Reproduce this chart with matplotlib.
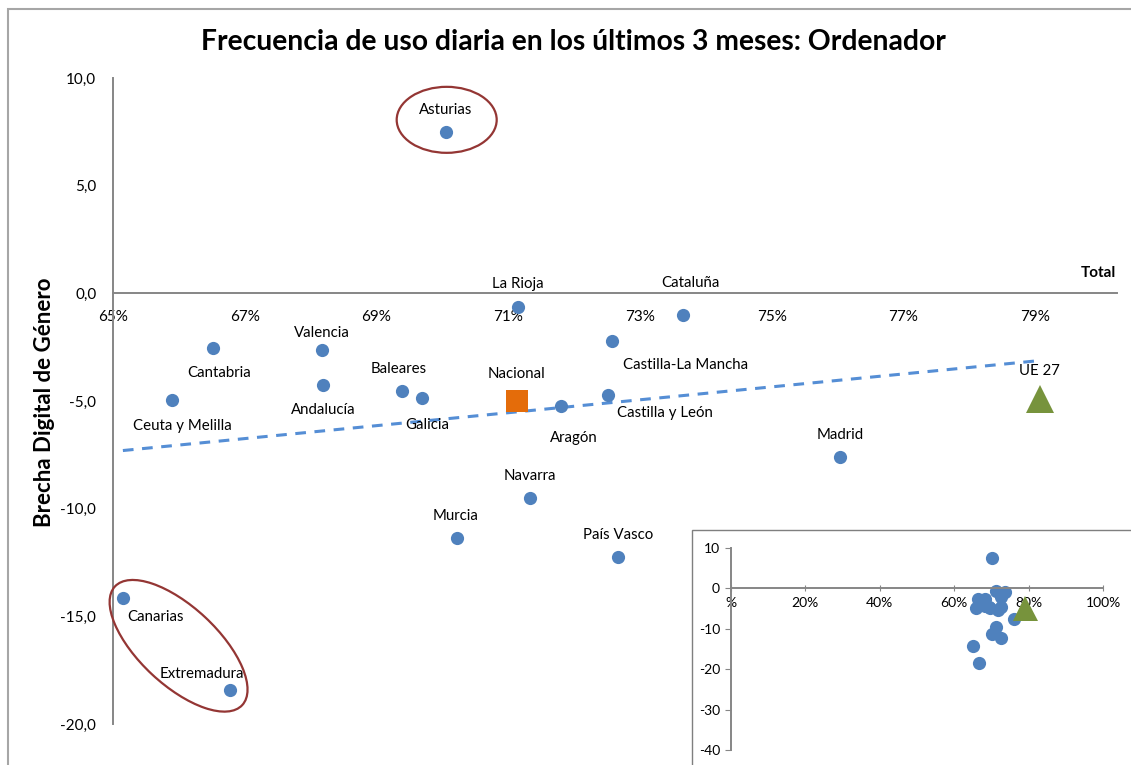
import numpy as np
import matplotlib
matplotlib.use("Agg")
import matplotlib.pyplot as plt
from matplotlib.patches import Ellipse, Rectangle
from matplotlib.ticker import FuncFormatter
from matplotlib.transforms import IdentityTransform

plt.rcParams['font.family'] = ['Lato', 'DejaVu Sans']

# Regions: % daily computer use (x) vs digital gender gap (y)
regions = ["Asturias", "La Rioja", "Cataluña", "Cantabria", "Valencia",
           "Castilla-La Mancha", "Andalucía", "Baleares", "Galicia",
           "Ceuta y Melilla", "Aragón", "Castilla y León", "Madrid",
           "Navarra", "Murcia", "País Vasco", "Canarias", "Extremadura"]
uso_total = [70.05, 71.15, 73.65, 66.52, 68.17, 72.57, 68.19, 69.39, 69.69,
             65.90, 71.80, 72.51, 76.03, 71.33, 70.22, 72.66, 65.15, 66.78]
brecha = [7.5, -0.65, -1.0, -2.55, -2.65, -2.2, -4.25, -4.55, -4.85,
          -4.95, -5.25, -4.7, -7.6, -9.5, -11.35, -12.25, -14.15, -18.4]

nacional_x, nacional_y = 71.13, -5.02
ue27_x, ue27_y = 79.07, -4.93

x_ticks = [65, 67, 69, 71, 73, 75, 77, 79]
y_ticks = [-20, -15, -10, -5, 0, 5, 10]
inset_x_ticks = [0, 20, 40, 60, 80, 100]
inset_y_ticks = [-40, -30, -20, -10, 0, 10]

# label offsets in pixels (dx, dy), y upwards
label_offsets = {
    "Asturias": (0, 22), "La Rioja": (0, 23), "Cataluña": (8, 32),
    "Cantabria": (6, -25), "Valencia": (0, 17), "Castilla-La Mancha": (74, -24),
    "Andalucía": (0, -25), "Baleares": (-4, 22), "Galicia": (5, -27),
    "Ceuta y Melilla": (10, -26), "Aragón": (13, -32), "Castilla y León": (57, -18),
    "Madrid": (1, 22), "Navarra": (0, 22), "Murcia": (-1, 22),
    "País Vasco": (0, 22), "Canarias": (33, -19), "Extremadura": (-28, 16),
}

BLUE = "#4F81BD"
ORANGE = "#E46C0A"
GREEN = "#77933C"
AXIS = "#868686"
RED = "#943634"

W, H = 1131, 765
fig = plt.figure(figsize=(W / 100, H / 100), dpi=100)

# outer chart border
fig.add_artist(Rectangle((8 / W, -0.05), 1.1, (H - 9) / H + 0.05, transform=fig.transFigure,
                         fill=False, edgecolor="#a6a6a6", linewidth=1.5, clip_on=False))

ax = fig.add_axes([113 / W, (H - 724) / H, (1117 - 113) / W, (724 - 78) / H])
ax.set_xlim(65, 80.24)
ax.set_ylim(-20, 10)
for s in ["top", "right"]:
    ax.spines[s].set_visible(False)
ax.spines["bottom"].set_position(("data", 0))
for s in ["left", "bottom"]:
    ax.spines[s].set_color(AXIS)
    ax.spines[s].set_linewidth(1.4)
ax.set_xticks(x_ticks)
ax.set_yticks(y_ticks)
ax.xaxis.set_major_formatter(FuncFormatter(lambda v, p: f"{v:.0f}%"))
ax.yaxis.set_major_formatter(FuncFormatter(lambda v, p: f"{v:.1f}".replace(".", ",")))
ax.tick_params(axis="x", length=0, pad=12, labelsize=11)
ax.tick_params(axis="y", length=0, pad=12, labelsize=11)

# trend line over all points
all_x = np.array(uso_total + [nacional_x, ue27_x])
all_y = np.array(brecha + [nacional_y, ue27_y])
slope, intercept = np.polyfit(all_x, all_y, 1)
tx = np.array([all_x.min(), all_x.max()])
ax.plot(tx, slope * tx + intercept, color="#558ED5", lw=2.2, ls=(0, (3.5, 2.8)), zorder=2)

ax.plot(uso_total, brecha, "o", color=BLUE, ms=9.5, mew=0, zorder=3)
ax.plot([nacional_x], [nacional_y], "s", color=ORANGE, ms=16.5, mew=0, zorder=3)
ax.plot([ue27_x], [ue27_y], "^", color=GREEN, ms=19.5, mew=0, zorder=3)

for name, x, y in zip(regions, uso_total, brecha):
    dx, dy = label_offsets[name]
    ax.annotate(name, (x, y), xytext=(dx, dy), textcoords="offset pixels",
                ha="center", va="center", fontsize=10.8)
ax.annotate("Nacional", (nacional_x, nacional_y), xytext=(0, 27), textcoords="offset pixels",
            ha="center", va="center", fontsize=10.8)
ax.annotate("UE 27", (ue27_x, ue27_y), xytext=(0, 28), textcoords="offset pixels",
            ha="center", va="center", fontsize=10.8)

ax.text(1116 / W, (H - 273) / H, "Total", transform=fig.transFigure, ha="right", va="center",
        fontsize=11, fontweight="bold")
fig.text(573 / W, (H - 42) / H, "Frecuencia de uso diaria en los últimos 3 meses: Ordenador",
         ha="center", va="center", fontsize=20.3, fontweight="bold")
fig.text(45 / W, (H - 402) / H, "Brecha Digital de Género", rotation=90,
         ha="center", va="center", fontsize=16, fontweight="bold")

# highlight ellipses (display pixels)
ast = ax.transData.transform((uso_total[0], brecha[0]))
fig.add_artist(Ellipse((ast[0] + 1, ast[1] + 12), 100, 66, transform=IdentityTransform(),
                       fill=False, edgecolor=RED, lw=1.6))
p1 = ax.transData.transform((uso_total[16], brecha[16]))
p2 = ax.transData.transform((uso_total[17], brecha[17]))
mid = (p1 + p2) / 2
fig.add_artist(Ellipse((mid[0] + 2, mid[1] - 2), 174, 78, angle=-43, transform=IdentityTransform(),
                       fill=False, edgecolor=RED, lw=1.6))

# inset with full scale
fig.add_artist(Rectangle((692 / W, -0.05), 0.5, (H - 530) / H + 0.05, transform=fig.transFigure,
                         facecolor="white", edgecolor="#7f7f7f", linewidth=1.0, zorder=5))
ins = fig.add_axes([731 / W, (H - 750) / H, (1103 - 731) / W, (750 - 548) / H], zorder=6)
ins.patch.set_alpha(0)
ins.set_xlim(0, 100)
ins.set_ylim(-40, 10)
for s in ["top", "right"]:
    ins.spines[s].set_visible(False)
ins.spines["bottom"].set_position(("data", 0))
for s in ["left", "bottom"]:
    ins.spines[s].set_color(AXIS)
    ins.spines[s].set_linewidth(1.4)
ins.set_xticks(inset_x_ticks)
ins.set_yticks(inset_y_ticks)
ins.xaxis.set_major_formatter(FuncFormatter(lambda v, p: "%" if v == 0 else f"{v:.0f}%"))
ins.yaxis.set_major_formatter(FuncFormatter(lambda v, p: f"{v:.0f}"))
ins.tick_params(axis="x", length=4, direction="inout", color=AXIS, pad=4, labelsize=10)
ins.tick_params(axis="y", length=4, direction="out", color=AXIS, pad=4, labelsize=10)
ins.plot(uso_total, brecha, "o", color=BLUE, ms=9.5, mew=0, clip_on=False)
ins.plot([ue27_x], [ue27_y], "^", color=GREEN, ms=18, mew=0, clip_on=False)

fig.savefig("out.png", dpi=100)
